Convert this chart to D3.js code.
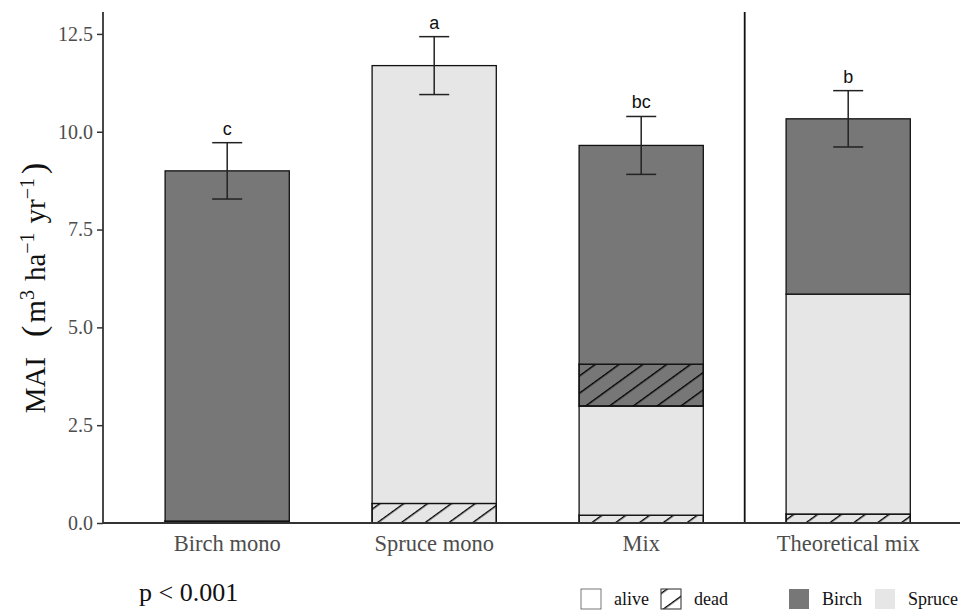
<!DOCTYPE html>
<html><head><meta charset="utf-8">
<script src="https://cdn.jsdelivr.net/npm/d3@7"></script>
<style>body{margin:0;background:#fff}</style>
</head><body>
<svg id="c" width="960" height="610"></svg>
<script>
const categories = ["Birch mono","Spruce mono","Mix","Theoretical mix"];
const spruceDead  = [0.00, 0.50, 0.20, 0.23];
const spruceAlive = [0.00, 11.19, 2.79, 5.62];
const birchDead   = [0.05, 0.00, 1.07, 0.00];
const birchAlive  = [8.95, 0.00, 5.59, 4.48];
const means = [9.00, 11.69, 9.65, 10.33];
const se    = [0.72, 0.74, 0.74, 0.72];
const letters = ["c","a","bc","b"];
const yTicks = [0, 2.5, 5, 7.5, 10, 12.5];

const svg = d3.select("#c");
const pLeft = 103, pTop = 12, pBottom = 523;
const step = 207;
const x = d3.scaleBand().domain(categories).range([pLeft, pLeft + 4.2*step]).paddingInner(0.4).paddingOuter(0.3);
const y = d3.scaleLinear().domain([0, 13.06]).range([pBottom, pTop]);

const defs = svg.append("defs");
const pat = defs.append("pattern").attr("id","hatch").attr("patternUnits","userSpaceOnUse")
  .attr("width",14).attr("height",14).attr("patternTransform","rotate(54)");
pat.append("line").attr("x1",0).attr("y1",-1).attr("x2",0).attr("y2",15).attr("stroke","#000").attr("stroke-width",2.8);

const table = categories.map((c,i)=>({cat:c, spruceDead:spruceDead[i], spruceAlive:spruceAlive[i], birchDead:birchDead[i], birchAlive:birchAlive[i]}));
const keys = ["spruceDead","spruceAlive","birchDead","birchAlive"];
const stack = d3.stack().keys(keys)(table);
const fillOf = k => k.startsWith("birch") ? "#777777" : "#e6e6e6";

const g = svg.append("g");
stack.forEach(layer => {
  layer.forEach(d => {
    if (d[1]-d[0] <= 0) return;
    const bx = x(d.data.cat), bw = x.bandwidth();
    g.append("rect").attr("x",bx).attr("y",y(d[1])).attr("width",bw).attr("height",y(d[0])-y(d[1]))
      .attr("fill",fillOf(layer.key)).attr("stroke","#111").attr("stroke-width",1.3);
    if (layer.key.endsWith("Dead")) {
      g.append("rect").attr("x",bx).attr("y",y(d[1])).attr("width",bw).attr("height",y(d[0])-y(d[1]))
        .attr("fill","url(#hatch)").attr("stroke","#111").attr("stroke-width",1.3);
    }
  });
});

// error bars
categories.forEach((c,i)=>{
  const cx = x(c) + x.bandwidth()/2;
  const eg = svg.append("g").attr("stroke","#222").attr("stroke-width",1.5);
  eg.append("line").attr("x1",cx).attr("x2",cx).attr("y1",y(means[i]+se[i])).attr("y2",y(means[i]-se[i]));
  [means[i]+se[i], means[i]-se[i]].forEach(v=>{
    eg.append("line").attr("x1",cx-15).attr("x2",cx+15).attr("y1",y(v)).attr("y2",y(v));
  });
  svg.append("text").attr("x",cx).attr("y",y(means[i]+se[i])-8).attr("text-anchor","middle")
    .attr("font-family","Liberation Sans, Arial, sans-serif").attr("font-size",18).attr("fill","#111").text(letters[i]);
});

// separator
const sepX = (x("Mix")+x.bandwidth()/2 + x("Theoretical mix")+x.bandwidth()/2)/2;
svg.append("line").attr("x1",sepX).attr("x2",sepX).attr("y1",pTop).attr("y2",pBottom).attr("stroke","#111").attr("stroke-width",1.8);

// axes
const serif = "Liberation Serif, Times New Roman, serif";
const yAxis = svg.append("g").attr("transform",`translate(${pLeft},0)`)
  .call(d3.axisLeft(y).tickValues(yTicks).tickFormat(d3.format(".1f")).tickSize(6).tickPadding(4));
yAxis.select(".domain").remove();
svg.append("line").attr("x1",pLeft).attr("x2",pLeft).attr("y1",pTop).attr("y2",pBottom).attr("stroke","#333").attr("stroke-width",1.8);
yAxis.selectAll(".tick line").attr("stroke","#333").attr("stroke-width",1.5);
yAxis.selectAll("text").attr("font-family",serif).attr("font-size",20).attr("fill","#4d4d4d");

const xAxis = svg.append("g").attr("transform",`translate(0,${pBottom})`)
  .call(d3.axisBottom(x).tickSize(0).tickPadding(12));
xAxis.select(".domain").remove();
svg.append("line").attr("x1",pLeft).attr("x2",960).attr("y1",pBottom).attr("y2",pBottom).attr("stroke","#333").attr("stroke-width",1.8);
xAxis.selectAll("text").attr("font-family",serif).attr("font-size",22.5).attr("fill","#4d4d4d");

// y title
const yt = svg.append("text").attr("transform","translate(45,288) rotate(-90)").attr("text-anchor","middle")
  .attr("font-family",serif).attr("font-size",29).attr("fill","#111");
yt.append("tspan").text("MAI");
yt.append("tspan").attr("dx",20).attr("font-size",34).text("(");
yt.append("tspan").attr("dx",3).text("m");
yt.append("tspan").attr("baseline-shift","super").attr("font-size",20).text("3");
yt.append("tspan").attr("dx",9).text("ha");
yt.append("tspan").attr("baseline-shift","super").attr("font-size",20).text("−1");
yt.append("tspan").attr("dx",9).text("yr");
yt.append("tspan").attr("baseline-shift","super").attr("font-size",20).text("−1");
yt.append("tspan").attr("dx",4).attr("font-size",34).text(")");

// p value
svg.append("text").attr("x",139).attr("y",601).attr("font-family",serif)
  .attr("font-size",26).attr("fill","#111").text("p < 0.001");

// legends
const lg = svg.append("g");
const legItems = [
  {x:581, fill:"#fff", stroke:"#555", hatch:false, label:"alive"},
  {x:661, fill:"#fff", stroke:"#555", hatch:true, label:"dead"},
  {x:789, fill:"#777777", stroke:"none", hatch:false, label:"Birch"},
  {x:875, fill:"#e6e6e6", stroke:"none", hatch:false, label:"Spruce"}
];
legItems.forEach(it=>{
  lg.append("rect").attr("x",it.x).attr("y",589).attr("width",20).attr("height",20).attr("fill",it.fill).attr("stroke",it.stroke).attr("stroke-width",0.8);
  if (it.hatch) lg.append("rect").attr("x",it.x).attr("y",589).attr("width",20).attr("height",20).attr("fill","url(#hatch)").attr("stroke",it.stroke).attr("stroke-width",0.8);
  lg.append("text").attr("x",it.x+33).attr("y",605).attr("font-family",serif).attr("font-size",18).attr("fill","#111").text(it.label);
});
</script>
</body></html>
